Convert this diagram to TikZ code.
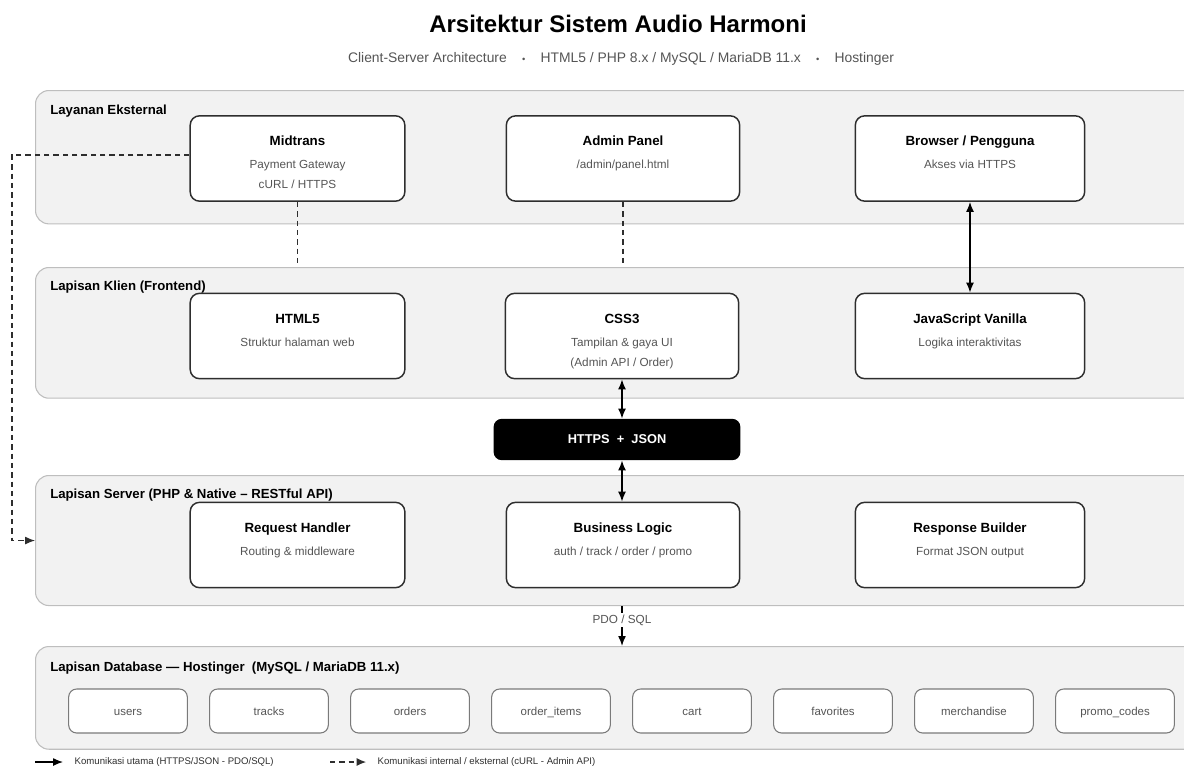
\documentclass[tikz,border=0pt]{standalone}
\usepackage{fontspec}
\setmainfont{Liberation Sans}
\usepackage{xcolor}
\usetikzlibrary{arrows.meta,positioning}
\definecolor{panelfill}{HTML}{F2F2F2}
\definecolor{paneldraw}{HTML}{BEBEBE}
\definecolor{boxdraw}{HTML}{2E2E2E}
\definecolor{subtxt}{HTML}{555555}
\definecolor{tbldraw}{HTML}{7A7A7A}
\tikzstyle{panel} = [rectangle, draw=paneldraw, fill=panelfill, rounded corners=10pt, line width=0.8pt, minimum width=881pt, anchor=north west, inner sep=0pt]
\tikzstyle{panellbl} = [anchor=west, inner sep=0pt, font=\fontsize{9.9}{12}\bfseries]
\tikzstyle{svcbox} = [rectangle, draw=boxdraw, fill=white, rounded corners=7pt, line width=1.1pt, inner sep=0pt]
\tikzstyle{tblbox} = [rectangle, draw=tbldraw, fill=white, rounded corners=6pt, line width=0.8pt, minimum width=89pt, minimum height=33pt, text=subtxt, text height=1.6ex, text depth=0.4ex, font=\fontsize{8.6}{10}\selectfont]
\tikzstyle{line} = [draw, line width=1.1pt, -{Latex[length=7.5pt,width=6pt]}]
\tikzstyle{biline} = [draw, line width=1.1pt, {Latex[length=7.5pt,width=6pt]}-{Latex[length=7.5pt,width=6pt]}]
\tikzstyle{dline} = [draw=boxdraw, line width=0.8pt, dash pattern=on 4pt off 3pt]
\newcommand{\svctxt}[2]{\parbox[c][64pt][t]{150pt}{\centering\fontsize{8.8}{15}\selectfont
  \rule{0pt}{22.5pt}{\fontsize{10}{15}\bfseries #1}\\[2.2pt]{\color{subtxt}#2}\par}}
\newcommand{\sep}{\hspace{1.1em}{\scriptsize\textbullet}\hspace{1.1em}}

\begin{document}
\begin{tikzpicture}[x=0.75pt, y=-0.75pt]
    \useasboundingbox (0,0) rectangle (1184,776);

    % judul
    \node [font=\fontsize{18}{22}\bfseries] (title) at (618,24) {Arsitektur Sistem Audio Harmoni};
    \node [font=\fontsize{10.4}{12}\selectfont, text=subtxt] (subtitle) at (621,59)
        {Client-Server Architecture\sep HTML5 / PHP 8.x / MySQL / MariaDB 11.x\sep Hostinger};

    % lapisan
    \node [panel, minimum height=100pt] (ext) at (35,90) {};
    \node [panel, minimum height=98pt] (klien) at (35,267) {};
    \node [panel, minimum height=97.5pt] (server) at (35,475) {};
    \node [panel, minimum height=77pt] (db) at (35,646) {};
    \node [panellbl] (extlbl) at (50,111) {Layanan Eksternal};
    \node [panellbl] (klienlbl) at (50,287) {Lapisan Klien (Frontend)};
    \node [panellbl] (serverlbl) at (50,495) {Lapisan Server (PHP \& Native -- RESTful API)};
    \node [panellbl] (dblbl) at (50,668) {Lapisan Database --- Hostinger \ (MySQL / MariaDB 11.x)};

    % layanan eksternal
    \node [svcbox, minimum width=161pt] (midtrans) at (297.5,158.5) {\svctxt{Midtrans}{Payment Gateway\\cURL / HTTPS}};
    \node [svcbox, minimum width=175pt] (admin) at (623,158.5) {\svctxt{Admin Panel}{/admin/panel.html}};
    \node [svcbox, minimum width=172pt] (browser) at (970,158.5) {\svctxt{Browser / Pengguna}{Akses via HTTPS}};

    % klien
    \node [svcbox, minimum width=161pt] (html) at (297.5,336) {\svctxt{HTML5}{Struktur halaman web}};
    \node [svcbox, minimum width=175pt] (css) at (622,336) {\svctxt{CSS3}{Tampilan \& gaya UI\\(Admin API / Order)}};
    \node [svcbox, minimum width=172pt] (js) at (970,336) {\svctxt{JavaScript Vanilla}{Logika interaktivitas}};

    % https
    \node [rectangle, fill=black, rounded corners=6pt, minimum width=185pt, minimum height=31pt, text=white,
           font=\fontsize{9.6}{11}\bfseries] (https) at (617,439.5) {HTTPS \ + \ JSON};

    % server
    \node [svcbox, minimum width=161pt] (reqh) at (297.5,545) {\svctxt{Request Handler}{Routing \& middleware}};
    \node [svcbox, minimum width=175pt] (bizl) at (623,545) {\svctxt{Business Logic}{auth / track / order / promo}};
    \node [svcbox, minimum width=172pt] (respb) at (970,545) {\svctxt{Response Builder}{Format JSON output}};

    % tabel database
    \foreach \nm/\lbl [count=\i from 0] in {users/users, tracks/tracks, orders/orders, orderitems/order\_items,
        cart/cart, favorites/favorites, merch/merchandise, promo/promo\_codes}
        \node [tblbox] (\nm) at ({128+141*\i},711) {\lbl};

    % koneksi
    \path [biline] (browser.south) -- (js.north);
    \path [biline] (css.south) -- (css.south |- https.north);
    \path [biline] (https.south -| css.south) -- (css.south |- bizl.north);
    \path [line] (css.south |- server.south) -- node [fill=white, inner sep=1.5pt, text=subtxt,
        font=\fontsize{8.8}{10}\selectfont, pos=0.35] (pdo) {PDO / SQL} (css.south |- db.north);
    \path [dline] (midtrans.south) -- (midtrans.south |- klien.north);
    \path [dline] (admin.south) -- (admin.south |- klien.north);
    \coordinate (corner) at (12,155);
    \path [dline, -{Latex[length=7.5pt,width=6pt]}] (midtrans.west |- corner) -- (corner) |- (server.west);

    % legenda
    \coordinate (lg1a) at (35,762);
    \coordinate (lg1b) at (63,762);
    \coordinate (lg2a) at (330,762);
    \coordinate (lg2b) at (366,762);
    \path [line, line width=0.9pt] (lg1a) -- (lg1b);
    \node [anchor=west, text=boxdraw, font=\fontsize{7.2}{8}\selectfont] (lg1) at (70,762) {Komunikasi utama (HTTPS/JSON - PDO/SQL)};
    \path [dline, -{Latex[length=7pt,width=6pt]}] (lg2a) -- (lg2b);
    \node [anchor=west, text=boxdraw, font=\fontsize{7.2}{8}\selectfont] (lg2) at (373,762) {Komunikasi internal / eksternal (cURL - Admin API)};
\end{tikzpicture}
\end{document}
